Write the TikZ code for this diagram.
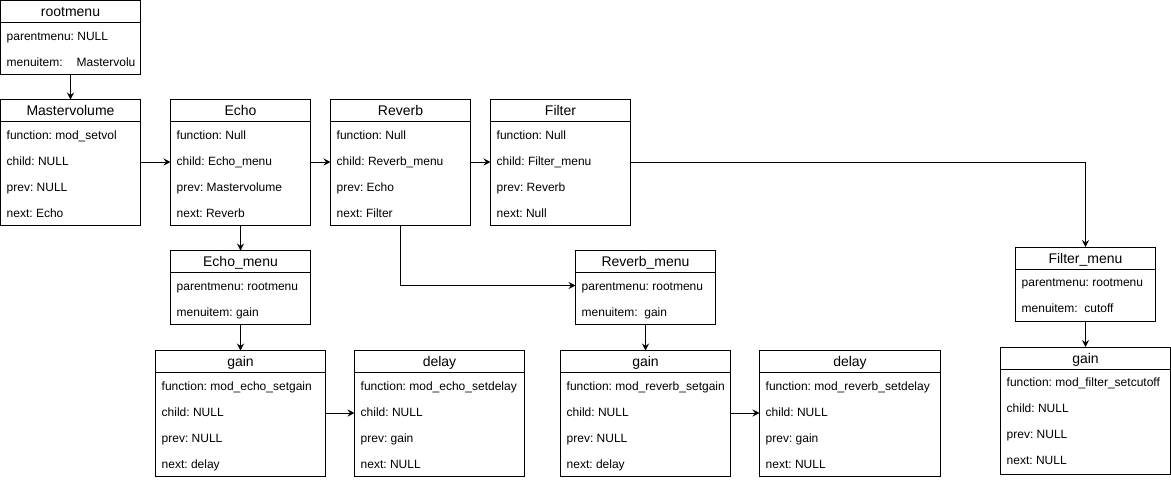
\documentclass[tikz,border=0pt]{standalone}
\usepackage{fontspec}
\setmainfont{Liberation Sans}
\frenchspacing
\usetikzlibrary{arrows.meta}
\tikzset{
  x=1pt, y=-1pt,
  umlframe/.style={draw, line width=1pt, fill=white, inner sep=0pt, outer sep=0pt, anchor=north west},
  umlline/.style={line width=1pt},
  umltitle/.style={anchor=base, inner sep=0pt, font=\fontsize{14}{16}\selectfont},
  umlrow/.style={anchor=base west, inner sep=0pt, font=\fontsize{12}{14}\selectfont},
  arr/.style={line width=1pt, -{Stealth[length=7pt,width=7pt,inset=2.5pt]}}
}
\newcommand\umlbox[7]{%
  \node[umlframe, minimum width=#4pt, minimum height=#5pt] (#1) at (#2,#3) {};
  \draw[umlline] ([yshift=-22pt]#1.north west) -- ([yshift=-22pt]#1.north east);
  \node[umltitle] (#1-t) at ([yshift=-16.3pt]#1.north) {#6};
  \foreach \txt [count=\i] in {#7} {
    \coordinate (#1-r\i) at ([yshift={-22pt-(\i-0.5)*26pt}]#1.north west);
    \node[umlrow] (#1-\i) at ([xshift=6pt,yshift=-4.5pt]#1-r\i) {\txt};
  }%
}
\begin{document}
\begin{tikzpicture}
\useasboundingbox (0,0) rectangle (1171,480);
\umlbox{root}{0.5}{0.5}{140}{74}{rootmenu}{parentmenu: NULL, menuitem:\hspace{14pt}Mastervolu}
\umlbox{mv}{0.5}{99.5}{140}{126}{Mastervolume}{function: mod\_setvol, child: NULL, prev: NULL, next: Echo}
\umlbox{echo}{170.5}{99.5}{140}{126}{Echo}{function: Null, child: Echo\_menu, prev: Mastervolume, next: Reverb}
\umlbox{reverb}{330.5}{99.5}{140}{126}{Reverb}{function: Null, child: Reverb\_menu, prev: Echo, next: Filter}
\umlbox{filter}{490.5}{99.5}{140}{126}{Filter}{function: Null, child: Filter\_menu, prev: Reverb, next: Null}
\umlbox{emenu}{170.5}{250.5}{140}{74}{Echo\_menu}{parentmenu: rootmenu, menuitem: gain}
\umlbox{egain}{155.5}{350.5}{170}{126}{gain}{function: mod\_echo\_setgain, child: NULL, prev: NULL, next: delay}
\umlbox{edelay}{354.5}{350.5}{170}{126}{delay}{function: mod\_echo\_setdelay, child: NULL, prev: gain, next: NULL}
\umlbox{rmenu}{575.5}{250.5}{140}{74}{Reverb\_menu}{parentmenu: rootmenu, menuitem:\ \ gain}
\umlbox{rgain}{560.5}{350.5}{170}{126}{gain}{function: mod\_reverb\_setgain, child: NULL, prev: NULL, next: delay}
\umlbox{rdelay}{759.5}{350.5}{181}{126}{delay}{function: mod\_reverb\_setdelay, child: NULL, prev: gain, next: NULL}
\umlbox{fmenu}{1015.5}{247}{140}{74}{Filter\_menu}{parentmenu: rootmenu, menuitem:\ \ cutoff}
\umlbox{fgain}{1000.5}{347}{170}{127}{gain}{function: mod\_filter\_setcutoff, child: NULL, prev: NULL, next: NULL}
% connectors
\draw[arr] (root) -- (mv);
\draw[arr] ([yshift=-1.5pt]mv.east |- mv-r2) -- ([yshift=-1.5pt]echo.west |- mv-r2);
\draw[arr] ([yshift=-1.5pt]echo.east |- echo-r2) -- ([yshift=-1.5pt]reverb.west |- echo-r2);
\draw[arr] ([yshift=-1.5pt]reverb.east |- reverb-r2) -- ([yshift=-1.5pt]filter.west |- reverb-r2);
\draw[arr] ([yshift=-1.5pt]filter.east |- filter-r2) -| (fmenu.north);
\draw[arr] (echo) -- (emenu);
\draw[arr] (reverb.south) |- (rmenu.west |- rmenu-r1);
\draw[arr] (emenu) -- (egain);
\draw[arr] ([yshift=-1.5pt]egain.east |- egain-r2) -- ([yshift=-1.5pt]edelay.west |- egain-r2);
\draw[arr] (rmenu) -- (rgain);
\draw[arr] ([yshift=-1.5pt]rgain.east |- rgain-r2) -- ([yshift=-1.5pt]rdelay.west |- rgain-r2);
\draw[arr] (fmenu) -- (fgain);
\end{tikzpicture}
\end{document}
